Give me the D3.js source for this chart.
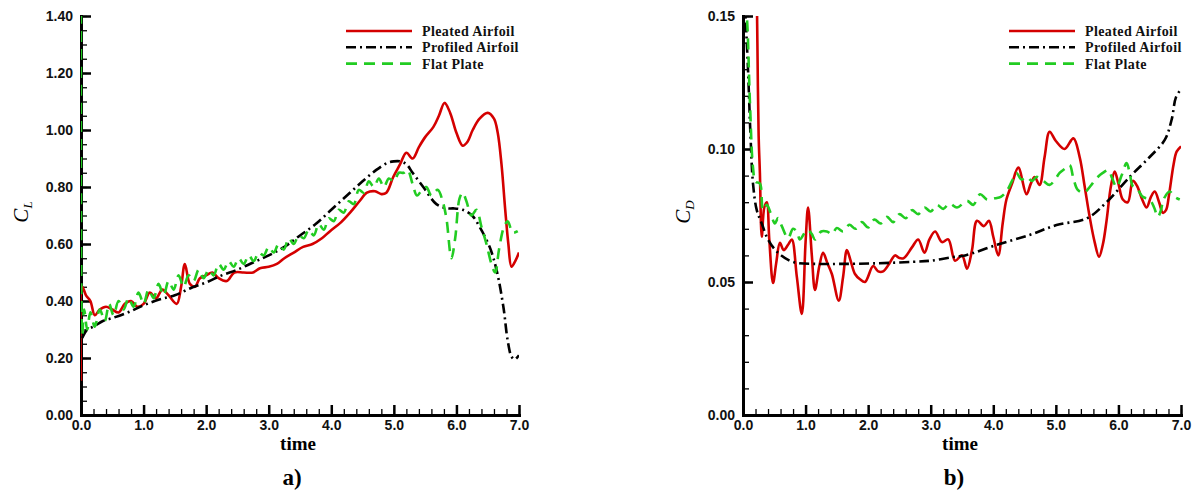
<!DOCTYPE html>
<html>
<head>
<meta charset="utf-8">
<script src="https://cdn.jsdelivr.net/npm/d3@7"></script>
<style>
  body { margin: 0; background: #fff; }
  .tick text { font-family: "Liberation Sans", Arial, sans-serif; font-size: 14px; font-weight: bold; fill: #111; }
  .legend text { font-family: "Liberation Serif", "Times New Roman", serif; font-weight: bold; font-size: 14px; letter-spacing: 0.4px; fill: #111; }
  .axisTitle { font-family: "Liberation Serif", "Times New Roman", serif; font-weight: bold; }
</style>
</head>
<body>
<svg id="chart" width="1194" height="492"></svg>
<script>
// 系列名
var seriesNames = ['Pleated Airfoil', 'Profiled Airfoil', 'Flat Plate'];

// a) 揚力係数 C_L  [time, value]
var pleatedCL = [
  [0.00, 0.12], [0.02, 0.45], [0.08, 0.42], [0.15, 0.40], [0.22, 0.35], [0.30, 0.37], [0.40, 0.38],
  [0.50, 0.37], [0.60, 0.36], [0.70, 0.39], [0.80, 0.40], [0.90, 0.38], [1.00, 0.39], [1.10, 0.43],
  [1.20, 0.41], [1.30, 0.44], [1.40, 0.42], [1.53, 0.39], [1.60, 0.45], [1.66, 0.53], [1.74, 0.46],
  [1.82, 0.45], [1.90, 0.48], [2.00, 0.49], [2.10, 0.50], [2.20, 0.48], [2.33, 0.47], [2.45, 0.50],
  [2.60, 0.50], [2.75, 0.50], [2.86, 0.515], [3.00, 0.52], [3.13, 0.53], [3.25, 0.55], [3.40, 0.57],
  [3.55, 0.59], [3.70, 0.60], [3.85, 0.62], [3.98, 0.645], [4.15, 0.675], [4.30, 0.71], [4.45, 0.75],
  [4.57, 0.78], [4.70, 0.785], [4.80, 0.775], [4.88, 0.78], [4.99, 0.835], [5.10, 0.88], [5.20, 0.92],
  [5.30, 0.90], [5.40, 0.94], [5.50, 0.975], [5.63, 1.01], [5.72, 1.05], [5.81, 1.095], [5.90, 1.06],
  [6.00, 0.99], [6.10, 0.945], [6.18, 0.96], [6.26, 1.00], [6.37, 1.04], [6.50, 1.06], [6.60, 1.04],
  [6.66, 0.99], [6.72, 0.88], [6.78, 0.72], [6.83, 0.60], [6.88, 0.52], [6.94, 0.54], [7.00, 0.57]
];
var profiledCL = [
  [0.02, 0.27], [0.10, 0.30], [0.20, 0.31], [0.35, 0.33], [0.50, 0.34], [0.75, 0.36], [1.00, 0.385],
  [1.25, 0.405], [1.50, 0.42], [1.75, 0.445], [2.00, 0.465], [2.25, 0.49], [2.50, 0.51], [2.75, 0.535],
  [3.00, 0.56], [3.25, 0.59], [3.50, 0.63], [3.75, 0.67], [4.00, 0.72], [4.25, 0.77], [4.50, 0.82],
  [4.72, 0.86], [4.90, 0.885], [5.00, 0.89], [5.10, 0.89], [5.20, 0.88], [5.30, 0.85], [5.47, 0.80],
  [5.68, 0.74], [5.85, 0.725], [5.95, 0.725], [6.10, 0.72], [6.25, 0.70], [6.37, 0.66], [6.53, 0.59],
  [6.64, 0.51], [6.75, 0.38], [6.82, 0.26], [6.88, 0.205], [6.93, 0.195], [7.00, 0.21]
];
var flatCL = [
  [0.00, 1.60], [0.02, 0.28], [0.05, 0.37], [0.10, 0.30], [0.15, 0.36], [0.22, 0.31], [0.30, 0.37],
  [0.38, 0.33], [0.45, 0.39], [0.52, 0.35], [0.60, 0.40], [0.68, 0.37], [0.76, 0.41], [0.84, 0.38],
  [0.92, 0.43], [1.00, 0.39], [1.08, 0.44], [1.16, 0.41], [1.24, 0.46], [1.32, 0.42], [1.40, 0.47],
  [1.48, 0.44], [1.56, 0.49], [1.64, 0.45], [1.72, 0.49], [1.80, 0.47], [1.88, 0.51], [1.96, 0.48],
  [2.04, 0.51], [2.12, 0.49], [2.20, 0.53], [2.28, 0.51], [2.36, 0.54], [2.44, 0.52], [2.52, 0.55],
  [2.60, 0.53], [2.68, 0.56], [2.76, 0.54], [2.84, 0.57], [2.92, 0.56], [3.00, 0.59], [3.08, 0.57],
  [3.16, 0.60], [3.24, 0.58], [3.32, 0.62], [3.40, 0.60], [3.48, 0.63], [3.56, 0.62], [3.64, 0.65],
  [3.72, 0.63], [3.80, 0.67], [3.88, 0.65], [3.96, 0.69], [4.04, 0.68], [4.12, 0.72], [4.20, 0.71],
  [4.28, 0.75], [4.36, 0.74], [4.44, 0.79], [4.52, 0.78], [4.60, 0.82], [4.68, 0.80], [4.76, 0.83],
  [4.84, 0.80], [4.92, 0.83], [5.00, 0.82], [5.08, 0.85], [5.16, 0.85], [5.22, 0.86], [5.30, 0.81],
  [5.37, 0.77], [5.45, 0.79], [5.52, 0.80], [5.60, 0.77], [5.70, 0.79], [5.78, 0.75], [5.84, 0.69],
  [5.92, 0.55], [5.98, 0.62], [6.05, 0.76], [6.10, 0.78], [6.16, 0.75], [6.24, 0.70], [6.32, 0.72],
  [6.40, 0.66], [6.48, 0.60], [6.56, 0.53], [6.62, 0.50], [6.68, 0.58], [6.76, 0.66], [6.82, 0.68],
  [6.90, 0.64], [6.98, 0.645]
];

// b) 抗力係数 C_D  [time, value]
var pleatedCD = [
  [0.22, 0.16], [0.23, 0.14], [0.25, 0.105], [0.27, 0.091], [0.30, 0.067], [0.34, 0.078], [0.38, 0.080],
  [0.42, 0.066], [0.48, 0.0496], [0.53, 0.057], [0.59, 0.0647], [0.65, 0.062], [0.72, 0.064], [0.78, 0.066],
  [0.86, 0.052], [0.94, 0.038], [1.00, 0.065], [1.04, 0.078], [1.10, 0.060], [1.15, 0.047], [1.22, 0.056],
  [1.28, 0.061], [1.35, 0.057], [1.42, 0.053], [1.53, 0.043], [1.60, 0.052], [1.66, 0.062], [1.72, 0.058],
  [1.79, 0.053], [1.87, 0.051], [1.95, 0.050], [2.08, 0.056], [2.16, 0.054], [2.24, 0.054], [2.34, 0.057],
  [2.43, 0.060], [2.50, 0.059], [2.57, 0.059], [2.70, 0.063], [2.80, 0.066], [2.90, 0.061], [2.98, 0.066],
  [3.07, 0.069], [3.18, 0.065], [3.28, 0.066], [3.39, 0.058], [3.50, 0.060], [3.58, 0.055], [3.66, 0.062],
  [3.74, 0.073], [3.85, 0.071], [3.93, 0.073], [4.00, 0.067], [4.08, 0.060], [4.15, 0.072], [4.21, 0.081],
  [4.30, 0.087], [4.40, 0.093], [4.53, 0.083], [4.60, 0.087], [4.66, 0.0895], [4.74, 0.0865], [4.82, 0.097],
  [4.90, 0.1065], [5.00, 0.103], [5.14, 0.100], [5.28, 0.104], [5.38, 0.097], [5.46, 0.086], [5.54, 0.0745],
  [5.62, 0.065], [5.69, 0.0595], [5.75, 0.064], [5.81, 0.073], [5.88, 0.086], [5.94, 0.0915], [6.00, 0.087],
  [6.07, 0.081], [6.15, 0.080], [6.23, 0.088], [6.30, 0.086], [6.38, 0.081], [6.45, 0.078], [6.52, 0.082],
  [6.58, 0.084], [6.65, 0.080], [6.71, 0.076], [6.76, 0.077], [6.81, 0.083], [6.88, 0.094], [6.93, 0.099],
  [7.00, 0.101]
];
var profiledCD = [
  [0.03, 0.155], [0.08, 0.13], [0.12, 0.105], [0.16, 0.087], [0.22, 0.077], [0.30, 0.072], [0.40, 0.066],
  [0.56, 0.061], [0.80, 0.0575], [1.18, 0.0568], [1.55, 0.0568], [2.08, 0.057], [2.72, 0.0576], [3.00, 0.058],
  [3.36, 0.0594], [3.55, 0.060], [4.06, 0.064], [4.58, 0.0677], [5.01, 0.0714], [5.50, 0.074], [5.81, 0.080],
  [6.18, 0.0895], [6.50, 0.097], [6.74, 0.1034], [6.85, 0.111], [6.92, 0.1195], [7.00, 0.1225]
];
var flatCD = [
  [0.03, 0.155], [0.06, 0.15], [0.11, 0.118], [0.16, 0.093], [0.20, 0.0877], [0.27, 0.087], [0.32, 0.077],
  [0.38, 0.079], [0.44, 0.076], [0.51, 0.072], [0.56, 0.074], [0.62, 0.071], [0.72, 0.0665], [0.80, 0.070],
  [0.86, 0.069], [0.91, 0.066], [1.00, 0.069], [1.04, 0.0695], [1.10, 0.068], [1.15, 0.066], [1.25, 0.069],
  [1.34, 0.069], [1.42, 0.068], [1.50, 0.0703], [1.60, 0.069], [1.70, 0.0715], [1.80, 0.070], [1.90, 0.0725],
  [2.00, 0.0705], [2.10, 0.0735], [2.20, 0.072], [2.30, 0.0745], [2.40, 0.0725], [2.50, 0.0755], [2.60, 0.074],
  [2.70, 0.077], [2.80, 0.0755], [2.90, 0.078], [3.00, 0.0765], [3.10, 0.079], [3.20, 0.0775], [3.30, 0.0795],
  [3.42, 0.078], [3.58, 0.0805], [3.68, 0.079], [3.79, 0.083], [3.90, 0.081], [4.03, 0.0815], [4.12, 0.082],
  [4.21, 0.084], [4.30, 0.088], [4.37, 0.091], [4.45, 0.0885], [4.53, 0.0895], [4.62, 0.088], [4.69, 0.0895],
  [4.80, 0.088], [4.90, 0.0865], [5.00, 0.089], [5.06, 0.091], [5.14, 0.0925], [5.22, 0.094], [5.28, 0.089],
  [5.35, 0.0846], [5.45, 0.0835], [5.55, 0.086], [5.65, 0.089], [5.75, 0.091], [5.84, 0.092], [5.90, 0.089],
  [5.97, 0.0857], [6.05, 0.090], [6.13, 0.0947], [6.18, 0.091], [6.23, 0.086], [6.30, 0.085], [6.39, 0.082],
  [6.50, 0.081], [6.57, 0.078], [6.63, 0.0745], [6.68, 0.077], [6.72, 0.081], [6.82, 0.084], [6.90, 0.082],
  [6.98, 0.081]
];

// 軸の目盛り
var timeTicks = [0, 1, 2, 3, 4, 5, 6, 7];
var clTicks = [0, 0.2, 0.4, 0.6, 0.8, 1.0, 1.2, 1.4];
var cdTicks = [0, 0.05, 0.10, 0.15];

// 線のスタイル（系列の順番）
var lineStyles = [
  { color: '#d40000', dash: null },
  { color: '#000000', dash: '10,4,2,4' },
  { color: '#22cc22', dash: '11,7' }
];

var svg = d3.select('#chart');

// パネルを1枚描画する
function drawPanel(cfg) {
  var x = d3.scaleLinear().domain([0, 7]).range([cfg.left, cfg.left + 438]);
  var y = d3.scaleLinear().domain(cfg.yDomain).range([415, 16]);

  var g = svg.append('g');

  // クリップ領域
  g.append('clipPath').attr('id', cfg.id + 'clip')
    .append('rect')
    .attr('x', x(0)).attr('y', y(cfg.yDomain[1]))
    .attr('width', x(7) - x(0)).attr('height', y(0) - y(cfg.yDomain[1]));

  // 補助目盛り
  g.append('g')
    .attr('transform', 'translate(' + x(0) + ',0)')
    .call(d3.axisLeft(y).tickValues(cfg.yMinor).tickSizeInner(-6).tickSizeOuter(0).tickFormat(''))
    .call(function(s) { s.select('.domain').remove(); })
    .selectAll('line').attr('stroke-width', 1.3);
  g.append('g')
    .attr('transform', 'translate(0,' + y(0) + ')')
    .call(d3.axisBottom(x).tickValues(d3.range(0, 7.01, 0.2)).tickSizeInner(-6).tickSizeOuter(0).tickFormat(''))
    .call(function(s) { s.select('.domain').remove(); })
    .selectAll('line').attr('stroke-width', 1.3);

  // 主目盛り
  var yAxis = g.append('g')
    .attr('transform', 'translate(' + x(0) + ',0)')
    .call(d3.axisLeft(y).tickValues(cfg.yTicks).tickSizeInner(-10).tickSizeOuter(0)
      .tickPadding(8).tickFormat(d3.format('.2f')));
  var xAxis = g.append('g')
    .attr('transform', 'translate(0,' + y(0) + ')')
    .call(d3.axisBottom(x).tickValues(timeTicks).tickSizeInner(-10).tickSizeOuter(0)
      .tickPadding(5).tickFormat(d3.format('.1f')));
  [yAxis, xAxis].forEach(function(a) {
    a.select('.domain').attr('stroke-width', 3).attr('stroke-linecap', 'square');
    a.selectAll('.tick line').attr('stroke-width', 2.5);
  });

  // 曲線
  var line = d3.line()
    .x(function(d) { return x(d[0]); })
    .y(function(d) { return y(d[1]); })
    .curve(d3.curveCatmullRom.alpha(0.5));

  var plot = g.append('g').attr('clip-path', 'url(#' + cfg.id + 'clip)');
  cfg.series.forEach(function(s, i) {
    plot.append('path')
      .datum(s)
      .attr('d', line)
      .attr('fill', 'none')
      .attr('stroke', lineStyles[i].color)
      .attr('stroke-width', 2.6)
      .attr('stroke-dasharray', lineStyles[i].dash);
  });

  // 凡例
  var legend = g.append('g').attr('class', 'legend')
    .attr('transform', 'translate(' + cfg.legendX + ',31)');
  seriesNames.forEach(function(name, i) {
    legend.append('line')
      .attr('x1', 0).attr('x2', 66).attr('y1', i * 16.3).attr('y2', i * 16.3)
      .attr('stroke', lineStyles[i].color)
      .attr('stroke-width', 2.6)
      .attr('stroke-dasharray', lineStyles[i].dash);
    legend.append('text')
      .attr('x', 76).attr('y', i * 16.3 + 5)
      .text(name);
  });

  // 軸タイトル
  g.append('text').attr('class', 'axisTitle')
    .attr('x', x(3.5) - 2).attr('y', 450)
    .attr('text-anchor', 'middle').attr('font-size', 19)
    .text('time');
  g.append('text').attr('class', 'axisTitle')
    .attr('x', x(3.5) - 8).attr('y', 485)
    .attr('text-anchor', 'middle').attr('font-size', 23)
    .text(cfg.panelLabel);

  var yt = g.append('text')
    .attr('transform', 'translate(' + (cfg.left - 53) + ',' + cfg.yTitleY + ') rotate(-90)')
    .attr('font-family', '"Liberation Serif", "Times New Roman", serif')
    .attr('font-style', 'italic')
    .attr('text-anchor', 'middle');
  yt.append('tspan').attr('font-size', 21).text('C');
  yt.append('tspan').attr('font-size', 13).attr('dy', 4).text(cfg.sub);
}

drawPanel({
  id: 'cl', left: 81, yDomain: [0, 1.4], yTicks: clTicks,
  yMinor: d3.range(0, 1.401, 0.05), legendX: 346,
  panelLabel: 'a)', sub: 'L', yTitleY: 212,
  series: [pleatedCL, profiledCL, flatCL]
});
drawPanel({
  id: 'cd', left: 743, yDomain: [0, 0.15], yTicks: cdTicks,
  yMinor: d3.range(0, 0.1501, 0.01), legendX: 1009,
  panelLabel: 'b)', sub: 'D', yTitleY: 212,
  series: [pleatedCD, profiledCD, flatCD]
});
</script>
</body>
</html>
